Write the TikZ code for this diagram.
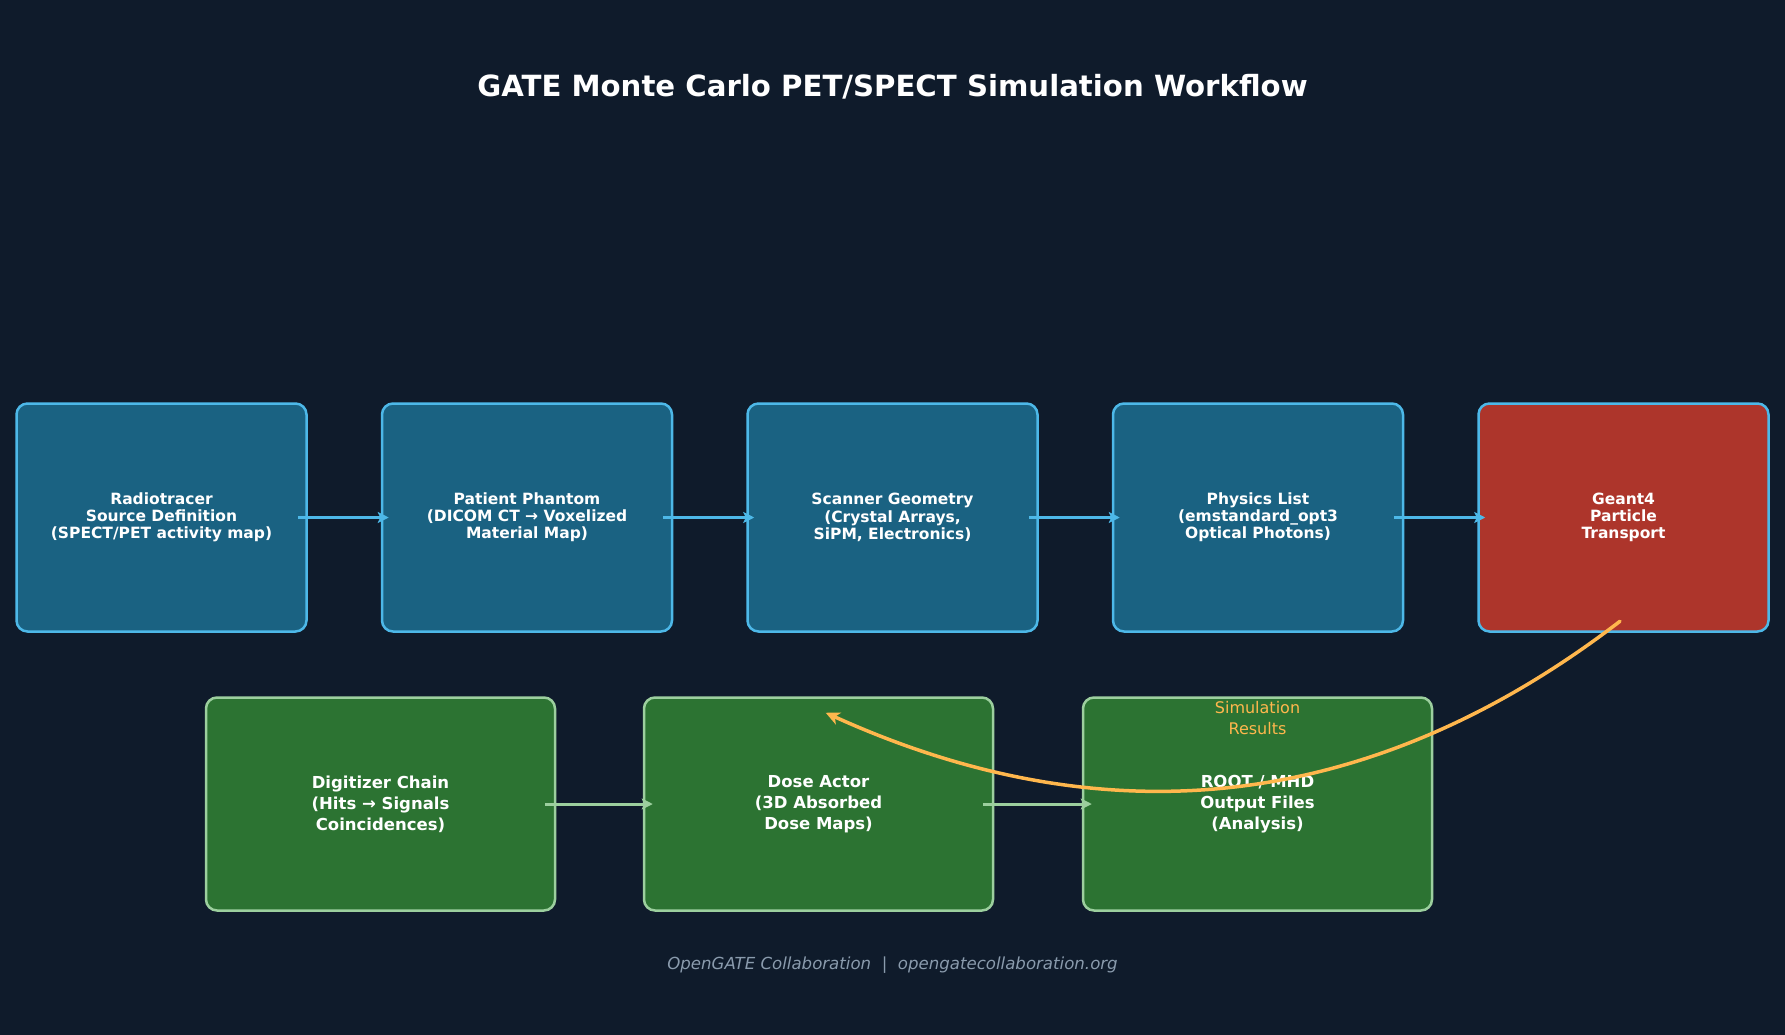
\documentclass[tikz,border=0pt]{standalone}
\usepackage{fontspec}
\setmainfont{DejaVu Sans}
\usetikzlibrary{arrows.meta,calc}
\definecolor{bg}{HTML}{0F1B2B}
\definecolor{topfill}{HTML}{1A6282}
\definecolor{topedge}{HTML}{4DB8E8}
\definecolor{redfill}{HTML}{AD352B}
\definecolor{grnfill}{HTML}{2C7332}
\definecolor{grnedge}{HTML}{9CCF9E}
\definecolor{orng}{HTML}{FFB74D}
\definecolor{footgray}{HTML}{8A9BAD}
\tikzset{
  basebox/.style={line width=2.5pt, rounded corners=11pt, inner sep=0pt, align=center, text=white},
  topbox/.style={basebox, draw=topedge, fill=topfill, minimum width=290pt, minimum height=228pt,
    font=\bfseries\fontsize{15.5}{17.2}\selectfont},
  redbox/.style={topbox, fill=redfill},
  botbox/.style={basebox, draw=grnedge, fill=grnfill, minimum width=349pt, minimum height=213pt,
    font=\bfseries\fontsize{16.5}{21}\selectfont},
  toparrow/.style={draw=topedge, line width=3pt, -{Stealth[length=11pt,width=11pt,inset=2.5pt]},
    shorten <=-10pt, shorten >=-8pt},
  botarrow/.style={draw=grnedge, line width=3pt, -{Stealth[length=11pt,width=11pt,inset=2.5pt]},
    shorten <=-11pt, shorten >=-10pt},
  resarrow/.style={draw=orng, line width=3.5pt, line cap=round, -{Stealth[length=14pt,width=13pt,inset=4pt]}}
}
\begin{document}
\begin{tikzpicture}[x=1pt,y=-1pt]
\path[fill=bg] (0,0) rectangle (1785,1035);
\useasboundingbox (0,0) rectangle (1785,1035);

\node[text=white, font=\bfseries\fontsize{29.2}{34}\selectfont] (title) at (892.5,86.5)
  {GATE Monte Carlo PET/SPECT Simulation Workflow};

\node[topbox] (src) at (161.5,517.5) {Radiotracer\\Source Definition\\(SPECT/PET activity map)};
\node[topbox] (phantom) at (527,517.5) {Patient Phantom\\(DICOM CT → Voxelized\\Material Map)};
\node[topbox] (scanner) at (892.5,517.5) {Scanner Geometry\\(Crystal Arrays,\\SiPM, Electronics)};
\node[topbox] (physics) at (1258,517.5) {Physics List\\(emstandard\_opt3\\Optical Photons)};
\node[redbox] (geant) at (1623.5,517.5) {Geant4\\Particle\\Transport};

\node[botbox] (digi) at (380.5,804) {Digitizer Chain\\(Hits → Signals\\Coincidences)};
\node[botbox] (dose) at (818.5,804) {Dose Actor\\(3D Absorbed\\Dose Maps)};
\node[botbox] (root) at (1257.5,804) {ROOT / MHD\\Output Files\\(Analysis)};

\draw[toparrow] (src.east) -- (phantom.west);
\draw[toparrow] (phantom.east) -- (scanner.west);
\draw[toparrow] (scanner.east) -- (physics.west);
\draw[toparrow] (physics.east) -- (geant.west);

\draw[botarrow] (digi.east) -- (dose.west);
\draw[botarrow] (dose.east) -- (root.west);

\coordinate (resstart) at ($(geant.south)+(-3.5,-11.5)$);
\coordinate (resend) at ($(dose.north)+(7.2,16.5)$);
\draw[resarrow] (resstart) .. controls (1373.7,810.4) and (1109,841.3) .. (resend);

\node[text=orng, align=center, font=\fontsize{16}{21}\selectfont] (reslabel) at (1257.5,718)
  {Simulation\\Results};

\node[text=footgray, font=\itshape\fontsize{16.6}{20}\selectfont] (footer) at (892.5,965)
  {OpenGATE Collaboration\ \ |\ \ opengatecollaboration.org};
\end{tikzpicture}
\end{document}
